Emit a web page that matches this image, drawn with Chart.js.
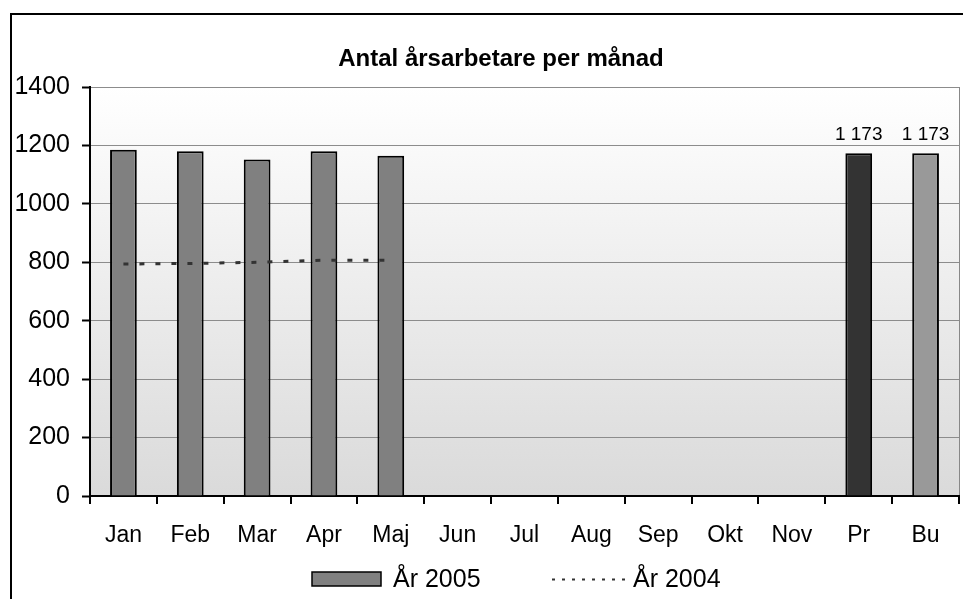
<!DOCTYPE html>
<html>
<head>
<meta charset="utf-8">
<script src="https://cdn.jsdelivr.net/npm/chart.js@4.4.0/dist/chart.umd.min.js"></script>
<style>
  html, body { margin: 0; padding: 0; background: #fff; }
  #wrap { width: 963px; height: 599px; position: relative; }
</style>
</head>
<body>
<div id="wrap"><canvas id="chart" width="963" height="599"></canvas></div>
<script>
// data
const months = ["Jan", "Feb", "Mar", "Apr", "Maj", "Jun", "Jul", "Aug", "Sep", "Okt", "Nov", "Pr", "Bu"];
const year2005 = [1185, 1180, 1152, 1180, 1165, null, null, null, null, null, null, 1173, 1173];
const year2004 = [794, 796, 800, 807, 807, null, null, null, null, null, null, null, null];
const barColors = ["#808080", "#808080", "#808080", "#808080", "#808080", "#808080", "#808080",
                   "#808080", "#808080", "#808080", "#808080", "#333333", "#999999"];
const valueLabels = [null, null, null, null, null, null, null, null, null, null, null, "1 173", "1 173"];
const yTicks = [0, 200, 400, 600, 800, 1000, 1200, 1400];

const FONT = "'Liberation Sans', Arial, sans-serif";

/* ---------- background, frame, title, legend ---------- */
const decor = {
    id: "decor",
    beforeDraw(chart) {
        const { ctx, chartArea: a } = chart;
        ctx.save();
        ctx.fillStyle = "#fff";
        ctx.fillRect(0, 0, chart.width, chart.height);
        const g = ctx.createLinearGradient(0, a.top, 0, a.bottom);
        g.addColorStop(0, "#ffffff");
        g.addColorStop(1, "#dadada");
        ctx.fillStyle = g;
        ctx.fillRect(a.left, a.top, a.right - a.left, a.bottom - a.top);
        ctx.strokeStyle = "#888";
        ctx.lineWidth = 1;
        ctx.beginPath();
        ctx.moveTo(a.right + 0.5, a.top);
        ctx.lineTo(a.right + 0.5, a.bottom);
        ctx.stroke();
        ctx.restore();
    },
    afterDraw(chart) {
        const { ctx } = chart;
        ctx.save();
        // outer frame
        ctx.strokeStyle = "#000";
        ctx.lineWidth = 2;
        ctx.strokeRect(11, 14, 1000, 1000);

        // title
        ctx.fillStyle = "#000";
        ctx.font = "bold 24px " + FONT;
        ctx.textAlign = "center";
        ctx.textBaseline = "middle";
        ctx.fillText("Antal årsarbetare per månad", 501, 59);

        // value labels above Pr and Bu
        const meta = chart.getDatasetMeta(0);
        ctx.font = "19px " + FONT;
        ctx.textBaseline = "alphabetic";
        valueLabels.forEach((t, i) => {
            if (!t) return;
            const bar = meta.data[i];
            ctx.fillText(t, bar.x, bar.y - 13);
        });

        // legend
        const ly = 579;
        ctx.fillStyle = "#808080";
        ctx.fillRect(312, ly - 7, 69, 14);
        ctx.strokeStyle = "#000";
        ctx.lineWidth = 1.5;
        ctx.strokeRect(312, ly - 7, 69, 14);
        ctx.fillStyle = "#000";
        ctx.font = "25px " + FONT;
        ctx.textAlign = "left";
        ctx.textBaseline = "middle";
        ctx.fillText("År 2005", 393, ly + 1);

        ctx.strokeStyle = "#333";
        ctx.lineWidth = 2;
        ctx.setLineDash([3, 7]);
        ctx.beginPath();
        ctx.moveTo(552, ly + 0.5);
        ctx.lineTo(628, ly + 0.5);
        ctx.stroke();
        ctx.setLineDash([]);
        ctx.fillText("År 2004", 633, ly + 1);
        ctx.restore();
    }
};

const ctx = document.getElementById("chart").getContext("2d");

new Chart(ctx, {
    type: "bar",
    data: {
        labels: months,
        datasets: [
            {
                label: "År 2005",
                data: year2005,
                backgroundColor: barColors,
                borderColor: "#000",
                borderWidth: 2,
                categoryPercentage: 1,
                barPercentage: 0.4,
                order: 2
            },
            {
                type: "line",
                label: "År 2004",
                data: year2004,
                borderColor: "#333",
                borderWidth: 3,
                borderDash: [5, 11],
                pointRadius: 0,
                fill: false,
                tension: 0,
                order: 1
            }
        ]
    },
    options: {
        responsive: false,
        animation: false,
        layout: { padding: { left: 10, top: 87, right: 4, bottom: 43 } },
        plugins: {
            legend: { display: false },
            title: { display: false },
            tooltip: { enabled: false }
        },
        scales: {
            x: {
                offset: true,
                grid: {
                    offset: true,
                    drawOnChartArea: false,
                    drawTicks: true,
                    tickLength: 8,
                    color: "#000",
                    lineWidth: 2
                },
                border: { color: "#000", width: 2 },
                ticks: {
                    color: "#000",
                    padding: 18,
                    maxRotation: 0,
                    autoSkip: false,
                    font: { family: FONT, size: 23 }
                },
                afterFit(scale) { scale.height = 60; }
            },
            y: {
                min: 0,
                max: 1400,
                afterBuildTicks(scale) { scale.ticks = yTicks.map(v => ({ value: v })); },
                grid: {
                    color: "#8c8c8c",
                    lineWidth: 1,
                    tickColor: "#000",
                    tickLength: 8,
                    tickWidth: 2
                },
                border: { color: "#000", width: 2 },
                ticks: {
                    color: "#000",
                    padding: 12,
                    callback: v => String(v),
                    font: { family: FONT, size: 25 }
                },
                afterFit(scale) { scale.width = 80; }
            }
        }
    },
    plugins: [decor]
});
</script>
</body>
</html>
